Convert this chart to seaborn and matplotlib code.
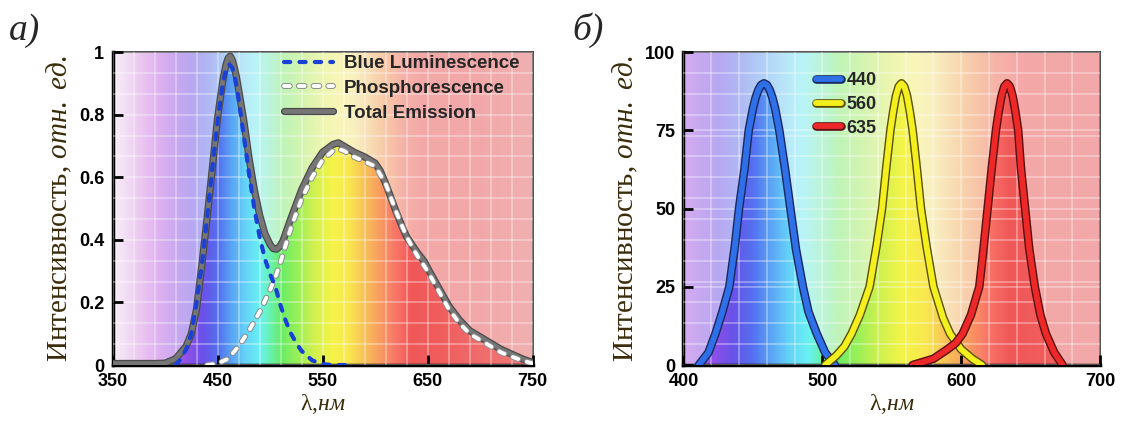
import numpy as np
import seaborn as sns
import matplotlib
matplotlib.use('Agg')
import matplotlib.pyplot as plt
import matplotlib.patheffects as pe
from matplotlib.colors import LinearSegmentedColormap, Normalize

# --- panel a: white LED spectrum ---
wl_total = [350, 370, 390, 400, 410, 420, 425, 430, 435, 440, 445, 450, 455, 458, 460, 462,
            464, 466, 468, 470, 475, 480, 485, 490, 495, 500, 503, 506, 509, 512, 520, 530,
            540, 550, 560, 565, 570, 580, 590, 600, 605, 610, 620, 626, 630, 640, 647, 650,
            660, 670, 680, 690, 700, 710, 720, 730, 740, 750]
total_emission = [0.005, 0.005, 0.005, 0.006, 0.02, 0.06, 0.10, 0.18, 0.32, 0.47, 0.63, 0.79, 0.91, 0.96, 0.98, 0.987,
                  0.975, 0.95, 0.92, 0.88, 0.78, 0.66, 0.56, 0.48, 0.42, 0.385, 0.372, 0.37, 0.378, 0.395, 0.47, 0.56,
                  0.63, 0.68, 0.705, 0.71, 0.70, 0.68, 0.665, 0.645, 0.62, 0.58, 0.49, 0.44, 0.41, 0.36, 0.33, 0.31,
                  0.25, 0.19, 0.145, 0.11, 0.09, 0.07, 0.05, 0.035, 0.02, 0.008]

wl_blue = [410, 415, 420, 425, 430, 435, 440, 445, 450, 455, 458, 461, 464, 467, 470, 475, 480, 485,
           490, 495, 500, 505, 510, 515, 520, 525, 530, 540, 550, 560, 575]
blue_lum = [0.0, 0.02, 0.05, 0.10, 0.20, 0.32, 0.47, 0.63, 0.78, 0.90, 0.945, 0.96, 0.95, 0.91, 0.85, 0.73, 0.61, 0.50,
            0.41, 0.34, 0.29, 0.25, 0.19, 0.14, 0.10, 0.07, 0.045, 0.015, 0.003, 0.0, 0.0]

wl_phos = [440, 450, 460, 470, 480, 490, 500, 505, 510, 520, 530, 540, 550, 560, 565, 570, 580,
           590, 600, 610, 620, 630, 640, 650, 660, 670, 680, 690, 700, 710, 720, 730, 740, 750]
phosphor = [0.0, 0.005, 0.02, 0.06, 0.11, 0.17, 0.24, 0.28, 0.33, 0.44, 0.53, 0.60, 0.655, 0.685, 0.69, 0.685, 0.665,
            0.65, 0.635, 0.58, 0.49, 0.41, 0.35, 0.30, 0.24, 0.18, 0.135, 0.10, 0.08, 0.06, 0.04, 0.027, 0.015, 0.005]

# --- panel b: RGB LEDs ---
wl_440 = [411, 418, 423, 428, 433, 437, 440, 444, 447, 450, 452, 454, 456, 458, 460, 462, 464,
          466, 469, 473, 477, 481, 486, 490, 496, 502, 509]
led_440 = [0, 4, 10, 17, 25, 38, 50, 63, 75, 82, 85.5, 88, 89.5, 90, 89.5, 88, 85.5,
           82, 75, 63, 50, 37, 25, 17, 10, 4, 0]
wl_560 = [502, 510, 516, 521, 527, 534, 539, 543, 546, 549, 551, 553, 555, 557, 559, 561, 563,
          565, 568, 571, 575, 580, 587, 592, 600, 608, 615]
led_560 = [0, 3, 6, 10, 16, 25, 38, 50, 63, 75, 81, 86, 89, 90, 89, 86, 81,
           75, 63, 50, 38, 25, 15, 10, 5, 2, 0]
wl_635 = [565, 580, 590, 596, 601, 607, 613, 616, 619, 622, 625, 627, 629, 631, 633, 635, 637,
          639, 641, 643, 646, 649, 653, 657, 661, 667, 673]
led_635 = [0, 2, 5, 7, 10, 16, 25, 37, 50, 63, 75, 81, 86, 89, 90, 89, 86,
           81, 75, 63, 50, 37, 25, 16, 10, 4, 0]

sns.set_style('ticks')
plt.rcParams['font.family'] = ['Liberation Sans', 'DejaVu Sans']
plt.rcParams['mathtext.fontset'] = 'custom'
plt.rcParams['mathtext.rm'] = 'Liberation Serif'
plt.rcParams['mathtext.it'] = 'Liberation Serif:italic'

pastel = [(350, '#f8f0f8'), (365, '#f0d8f2'), (380, '#e8c0f0'), (395, '#dcb0f0'), (410, '#c8a8f0'),
          (425, '#b8a8f2'), (440, '#b0b8f4'), (455, '#b0cdf6'), (470, '#b8e2f8'), (485, '#b8f4f8'),
          (500, '#bcf4d8'), (512, '#c0f4b8'), (530, '#d4f4b0'), (550, '#eef6b0'), (565, '#f8f6b8'),
          (580, '#f8f0c0'), (595, '#f8dcb4'), (610, '#f8c8a8'), (625, '#f6b4a8'), (645, '#f4a8a8'),
          (700, '#f2a8a8'), (750, '#f0b0b0')]
vivid = [(350, '#e8c0f0'), (400, '#b070e8'), (420, '#9050e8'), (435, '#6a52e8'), (450, '#5470f0'),
         (462, '#5aa2f4'), (475, '#64d0f8'), (490, '#68f2f2'), (500, '#68f0a8'), (510, '#68ec68'),
         (525, '#98f058'), (540, '#ccf050'), (558, '#f4f448'), (575, '#f8e850'), (590, '#f8c058'),
         (605, '#f89c60'), (620, '#f87468'), (635, '#f05858'), (660, '#f05c5c'), (700, '#f06c6c'),
         (750, '#f07c7c')]


def make_cmap(stops, name):
    return LinearSegmentedColormap.from_list(name, [((w - 350) / 400, c) for w, c in stops])


cm_bg = make_cmap(pastel, 'bg')
cm_fill = make_cmap(vivid, 'fill')
norm = Normalize(350, 750)


def spectrum(ax, x0, x1, y1, cmap, z, clip=None):
    grad = np.linspace(x0, x1, 500)[None, :]
    im = ax.imshow(grad, extent=[x0, x1, 0, y1], aspect='auto', cmap=cmap, norm=norm,
                   zorder=z, interpolation='bilinear')
    if clip is not None:
        im.set_clip_path(clip, ax.transData)
    return im


def outline(w, c):
    return [pe.Stroke(linewidth=w, foreground=c), pe.Normal()]


def style_axes(ax, xlim, xstep, ylim, yticks, ylabels):
    ax.set_xlim(*xlim)
    ax.set_ylim(*ylim)
    xt = np.arange(xlim[0], xlim[1] + 1, xstep)
    ax.set_xticks(xt)
    ax.set_xticklabels([str(int(v)) for v in xt], fontweight='bold', fontsize=13)
    ax.set_yticks(yticks)
    ax.set_yticklabels(ylabels, fontweight='bold', fontsize=13)
    ax.set_xticks(np.arange(xlim[0], xlim[1] + 1, 20), minor=True)
    ax.set_yticks(np.linspace(ylim[0], ylim[1], 16), minor=True)
    ax.tick_params(which='major', direction='in', length=7, width=2, pad=6, colors='black')
    ax.tick_params(which='minor', length=0)
    ax.grid(which='both', color='white', alpha=0.35, lw=1.3)
    ax.set_axisbelow(False)
    for s in ['left', 'bottom']:
        ax.spines[s].set_linewidth(2.5)
        ax.spines[s].set_color('black')
    for s in ['top', 'right']:
        ax.spines[s].set_linewidth(1.2)
        ax.spines[s].set_color('#333333')
    ax.set_ylabel(r'Интенсивность, $\mathit{отн.\ ед.}$', family='Liberation Serif',
                  fontsize=21, color='#3a2c0a')
    ax.set_xlabel(r'λ,$\mathit{нм}$', family='Liberation Serif', fontsize=17, color='#3a2c0a')


fig = plt.figure(figsize=(11.26, 4.23), dpi=100)
ax1 = fig.add_axes([0.100, 0.137, 0.373, 0.740])
ax2 = fig.add_axes([0.607, 0.137, 0.370, 0.740])

# panel a
spectrum(ax1, 350, 750, 1, cm_bg, 0.1)
poly = ax1.fill_between(wl_total, total_emission, 0, color='none', lw=0)
spectrum(ax1, 350, 750, 1, cm_fill, 0.2, clip=poly.get_paths()[0])

sns.lineplot(x=wl_total, y=total_emission, ax=ax1, color='#767676', lw=3.4,
             solid_capstyle='round', path_effects=outline(5.2, '#4a4a4a'), zorder=4)
sns.lineplot(x=wl_phos, y=phosphor, ax=ax1, color='white', lw=2.8,
             linestyle=(0, (1.5, 2.3)), dash_capstyle='round',
             path_effects=outline(4.2, '#8a8a8a'), zorder=5)
sns.lineplot(x=wl_blue, y=blue_lum, ax=ax1, color='#1a40d8', lw=3.0,
             linestyle=(0, (1.5, 2.2)), dash_capstyle='round', zorder=6)
h_tot, h_phos, h_blue = ax1.get_lines()[-3:]
style_axes(ax1, (350, 750), 100, (0, 1), [0, 0.2, 0.4, 0.6, 0.8, 1],
           ['0', '0.2', '0.4', '0.6', '0.8', '1'])
ax1.legend([h_blue, h_phos, h_tot], ['Blue Luminescence', 'Phosphorescence', 'Total Emission'],
           loc='upper left', bbox_to_anchor=(0.39, 1.014), borderaxespad=0, frameon=False,
           handlelength=2.6, labelspacing=0.4, handletextpad=0.6,
           prop={'weight': 'bold', 'size': 13.5})

# panel b
spectrum(ax2, 400, 700, 100, cm_bg, 0.1)
curves = [(wl_440, led_440, '#2f70e8', '#1a2860', '440'),
          (wl_560, led_560, '#f4f020', '#5a5000', '560'),
          (wl_635, led_635, '#ec2828', '#5a1010', '635')]
handles = []
for x, y, c, dark, lab in curves:
    p = ax2.fill_between(x, y, 0, color='none', lw=0)
    spectrum(ax2, 400, 700, 100, cm_fill, 0.2, clip=p.get_paths()[0])
for x, y, c, dark, lab in curves:
    sns.lineplot(x=x, y=y, ax=ax2, color=c, lw=4.2, solid_capstyle='round',
                 path_effects=outline(6.2, dark), zorder=4)
    handles.append(ax2.get_lines()[-1])
style_axes(ax2, (400, 700), 100, (0, 100), [0, 25, 50, 75, 100],
           ['0', '25', '50', '75', '100'])
ax2.legend(handles, [c[4] for c in curves], loc='upper left', bbox_to_anchor=(0.30, 0.958),
           borderaxespad=0, frameon=False, handlelength=1.4, labelspacing=0.37, handletextpad=0.3,
           prop={'weight': 'bold', 'size': 13})

ax1.yaxis.set_label_coords(-0.092, 0.5)
ax2.yaxis.set_label_coords(-0.105, 0.5)
for ax in (ax1, ax2):
    ax.xaxis.set_label_coords(0.5, -0.085)

fig.text(0.008, 0.905, 'а)', family='Liberation Serif', style='italic', fontsize=27)
fig.text(0.508, 0.905, 'б)', family='Liberation Serif', style='italic', fontsize=27)

fig.savefig('out.png', dpi=100)
